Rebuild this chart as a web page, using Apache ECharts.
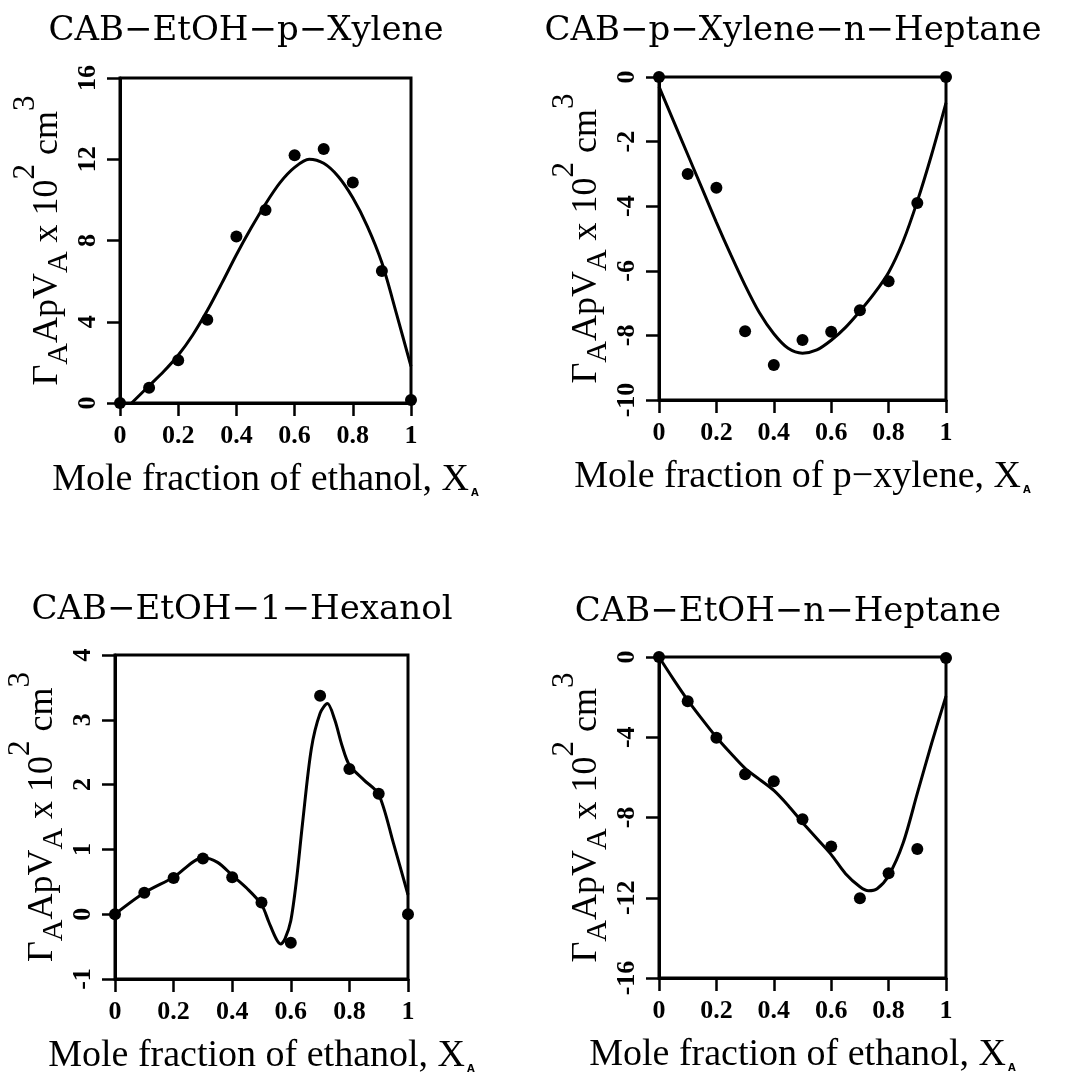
<!DOCTYPE html>
<html><head><meta charset="utf-8">
<script src="https://cdn.jsdelivr.net/npm/echarts@6/dist/echarts.min.js"></script>
<style>html,body{margin:0;padding:0;background:#fff}#c{width:1066px;height:1076px}</style>
</head><body><div id="c"></div>
<script>
// ---------- data ----------
const titles = ['CAB\u2212EtOH\u2212p\u2212Xylene', 'CAB\u2212p\u2212Xylene\u2212n\u2212Heptane', 'CAB\u2212EtOH\u22121\u2212Hexanol', 'CAB\u2212EtOH\u2212n\u2212Heptane'];
const xAxisNames = ['Mole fraction of ethanol, X', 'Mole fraction of p\u2212xylene, X', 'Mole fraction of ethanol, X', 'Mole fraction of ethanol, X'];
const xTickValues = [0, 0.2, 0.4, 0.6, 0.8, 1];
const yTicksEtohXylene = [0, 4, 8, 12, 16];
const yTicksXyleneHeptane = [-10, -8, -6, -4, -2, 0];
const yTicksEtohHexanol = [-1, 0, 1, 2, 3, 4];
const yTicksEtohHeptane = [-16, -12, -8, -4, 0];

const moleFraction = [0, 0.1, 0.2, 0.3, 0.4, 0.5, 0.6, 0.7, 0.8, 0.9, 1.0];
const ptsEtohXylene = [0, 0.75, 2.1, 4.1, 8.2, 9.5, 12.2, 12.5, 10.85, 6.5, 0.15];
const ptsXyleneHeptane = [0, -3.0, -3.43, -7.87, -8.92, -8.14, -7.89, -7.22, -6.32, -3.9, 0];
const ptsEtohHexanol = [0, 0.33, 0.56, 0.86, 0.57, 0.18, -0.44, 3.37, 2.24, 1.86, 0];
const ptsEtohHeptane = [0, -2.2, -4.03, -5.85, -6.19, -8.09, -9.45, -12.02, -10.78, -9.57, -0.05];

const fitXEtohXylene = [0.04, 0.1, 0.15, 0.2, 0.25, 0.3, 0.35, 0.4, 0.45, 0.5, 0.55, 0.6, 0.65, 0.7, 0.75, 0.8, 0.85, 0.9, 0.95, 1.0];
const fitYEtohXylene = [0, 0.85, 1.55, 2.35, 3.35, 4.55, 5.9, 7.3, 8.6, 9.8, 10.85, 11.6, 12.0, 11.8, 11.15, 10.1, 8.7, 6.9, 4.4, 1.8];

const fitXXyleneHeptane = [0, 0.05, 0.1, 0.15, 0.2, 0.25, 0.3, 0.35, 0.4, 0.45, 0.5, 0.55, 0.6, 0.65, 0.7, 0.75, 0.8, 0.85, 0.9, 0.95, 1.0];
const fitYXyleneHeptane = [-0.3, -1.35, -2.4, -3.45, -4.5, -5.5, -6.45, -7.3, -7.95, -8.4, -8.55, -8.45, -8.15, -7.75, -7.25, -6.7, -6.05, -5.1, -3.85, -2.4, -0.8];

const fitXEtohHexanol = [0, 0.1, 0.2, 0.3, 0.35, 0.4, 0.45, 0.5, 0.525, 0.55, 0.565, 0.58, 0.6, 0.62, 0.64, 0.67, 0.7, 0.725, 0.75, 0.775, 0.8, 0.85, 0.9, 0.95, 1.0];
const fitYEtohHexanol = [0, 0.33, 0.57, 0.87, 0.8, 0.6, 0.4, 0.15, -0.12, -0.38, -0.46, -0.38, -0.1, 0.55, 1.4, 2.55, 3.1, 3.25, 3.0, 2.6, 2.3, 2.07, 1.85, 1.1, 0.3];

const fitXEtohHeptane = [0, 0.05, 0.1, 0.15, 0.2, 0.25, 0.3, 0.35, 0.4, 0.45, 0.5, 0.55, 0.6, 0.65, 0.7, 0.73, 0.76, 0.8, 0.85, 0.9, 0.95, 1.0];
const fitYEtohHeptane = [0, -1.1, -2.15, -3.1, -4.0, -4.8, -5.55, -6.1, -6.65, -7.4, -8.25, -9.05, -9.85, -10.8, -11.45, -11.65, -11.55, -10.9, -9.3, -6.8, -4.3, -1.95];

// ---------- chart ----------
const SERIF = "'Liberation Serif', serif";
const DSERIF = "'DejaVu Serif', serif";
const panels = [
  {grid: {left: 120, top: 78, width: 291, height: 325}, yt: yTicksEtohXylene, pts: ptsEtohXylene, fx: fitXEtohXylene, fy: fitYEtohXylene, tx: 246, ty: 14},
  {grid: {left: 659, top: 77, width: 287, height: 323}, yt: yTicksXyleneHeptane, pts: ptsXyleneHeptane, fx: fitXXyleneHeptane, fy: fitYXyleneHeptane, tx: 793, ty: 14},
  {grid: {left: 115, top: 655, width: 293, height: 325}, yt: yTicksEtohHexanol, pts: ptsEtohHexanol, fx: fitXEtohHexanol, fy: fitYEtohHexanol, tx: 242, ty: 593},
  {grid: {left: 659, top: 657, width: 287, height: 321}, yt: yTicksEtohHeptane, pts: ptsEtohHeptane, fx: fitXEtohHeptane, fy: fitYEtohHeptane, tx: 788, ty: 595}
];

const yName = '{m|\u0393}{s|A}{m|ApV}{s|A}{m| x 10}{u|2}{m| cm}{u|3}';
const yRich = {
  m: {fontFamily: SERIF, fontSize: 36, color: '#000'},
  s: {fontFamily: SERIF, fontSize: 30, color: '#000', padding: [24, 0, 0, 0]},
  u: {fontFamily: SERIF, fontSize: 31, color: '#000', padding: [0, 0, 42, 0]}
};
const xRich = {
  m: {fontFamily: SERIF, fontSize: 38, color: '#000'},
  s: {fontFamily: "'DejaVu Sans', sans-serif", fontSize: 10, fontWeight: 'bold', color: '#000', padding: [26, 0, 0, 2]}
};
const tickFont = {fontFamily: SERIF, fontSize: 26, fontWeight: 'bold', color: '#000'};

const option = {
  backgroundColor: '#fff',
  animation: false,
  title: panels.map((p, i) => ({
    text: titles[i], left: p.tx, top: p.ty, textAlign: 'center', padding: 0,
    textStyle: {fontFamily: DSERIF, fontSize: 34, fontWeight: 'normal', color: '#000'}
  })),
  grid: panels.map(p => Object.assign({show: true, borderColor: '#000', borderWidth: 3, backgroundColor: 'transparent'}, p.grid)),
  xAxis: panels.map((p, i) => ({
    type: 'value', gridIndex: i, min: 0, max: 1, interval: 0.2,
    name: '{m|' + xAxisNames[i] + '}{s|A}', nameLocation: 'middle', nameGap: 58,
    nameTextStyle: {rich: xRich},
    axisLine: {show: true, onZero: false, lineStyle: {color: '#000', width: 3}},
    axisTick: {show: true, length: 13, lineStyle: {color: '#000', width: 2.5}},
    axisLabel: Object.assign({margin: 20,
      formatter: v => xTickValues.includes(Math.round(v * 10) / 10) ? String(Math.round(v * 10) / 10) : ''}, tickFont),
    splitLine: {show: false}
  })),
  yAxis: panels.map((p, i) => ({
    type: 'value', gridIndex: i, min: p.yt[0], max: p.yt[p.yt.length - 1], interval: p.yt[1] - p.yt[0],
    name: yName, nameLocation: 'middle', nameRotate: 90, nameGap: 29,
    nameTextStyle: {rich: yRich},
    axisLine: {show: true, onZero: false, lineStyle: {color: '#000', width: 3}},
    axisTick: {show: true, length: 13, lineStyle: {color: '#000', width: 2.5}},
    axisLabel: Object.assign({margin: 19, rotate: 90}, tickFont),
    splitLine: {show: false}
  })),
  series: panels.flatMap((p, i) => [
    {type: 'line', xAxisIndex: i, yAxisIndex: i, data: p.fx.map((x, k) => [x, p.fy[k]]),
      showSymbol: false, smooth: 0.3, lineStyle: {color: '#000', width: 3}, z: 2, silent: true},
    {type: 'scatter', xAxisIndex: i, yAxisIndex: i, data: moleFraction.map((x, k) => [x, p.pts[k]]),
      symbol: 'circle', symbolSize: 12, itemStyle: {color: '#000', opacity: 1}, clip: false, z: 3}
  ])
};
const chart = echarts.init(document.getElementById('c'));
chart.setOption(option);
</script></body></html>
